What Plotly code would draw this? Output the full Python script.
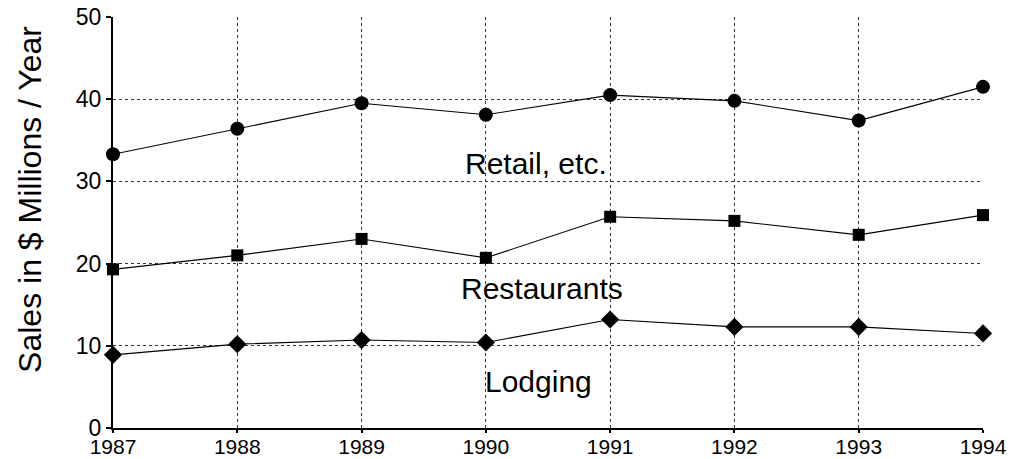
import plotly.graph_objects as go

years = [1987, 1988, 1989, 1990, 1991, 1992, 1993, 1994]
retail = [33.3, 36.4, 39.5, 38.1, 40.5, 39.8, 37.4, 41.5]
restaurants = [19.3, 21.0, 23.0, 20.7, 25.7, 25.2, 23.5, 25.9]
lodging = [8.9, 10.2, 10.7, 10.4, 13.2, 12.3, 12.3, 11.5]

labels = ["Retail, etc.", "Restaurants", "Lodging"]
label_x = [1990.40, 1990.45, 1990.42]
label_y = [32.2, 17.0, 5.7]

y_title = "Sales in $ Millions / Year"

FONT = "Liberation Sans, Arial, sans-serif"

fig = go.Figure()
for vals, sym, size in [(retail, "circle", 14), (restaurants, "square", 12), (lodging, "diamond", 14)]:
    fig.add_trace(go.Scatter(
        x=years, y=vals, mode="lines+markers",
        line=dict(color="black", width=1.1),
        marker=dict(symbol=sym, size=size, color="black"),
        showlegend=False, cliponaxis=False))

for t, x, y in zip(labels, label_x, label_y):
    fig.add_annotation(x=x, y=y, text=t, showarrow=False,
                       font=dict(family=FONT, size=30, color="black"))

# y-axis title placed like the reference (slightly above plot centre)
fig.add_annotation(xref="paper", yref="paper", x=0, y=0.555, xanchor="center",
                   xshift=-83, text=y_title, textangle=-90, showarrow=False,
                   font=dict(family=FONT, size=32, color="black"))

fig.update_xaxes(range=[1987, 1994], tickmode="array", tickvals=years,
                 showgrid=True, gridcolor="#333", griddash="dot", gridwidth=1,
                 showline=True, linecolor="black", linewidth=2,
                 ticks="outside", ticklen=3, tickwidth=1.5, tickcolor="black",
                 tickfont=dict(family=FONT, size=21, color="black"),
                 ticklabelstandoff=-4, ticklabeloverflow="allow",
                 zeroline=False, automargin=False)
fig.update_yaxes(range=[0, 50], tickmode="array", tickvals=[0, 10, 20, 30, 40, 50],
                 showgrid=True, gridcolor="#333", griddash="dot", gridwidth=1,
                 showline=True, linecolor="black", linewidth=2,
                 ticks="outside", ticklen=5, tickwidth=1.5, tickcolor="black",
                 tickfont=dict(family=FONT, size=23, color="black"),
                 ticklabeloverflow="allow",
                 zeroline=False, automargin=False)

fig.update_layout(width=1008, height=451,
                  margin=dict(l=105, r=33, t=9, b=31),
                  paper_bgcolor="white", plot_bgcolor="white")

fig.write_html("out.html")
